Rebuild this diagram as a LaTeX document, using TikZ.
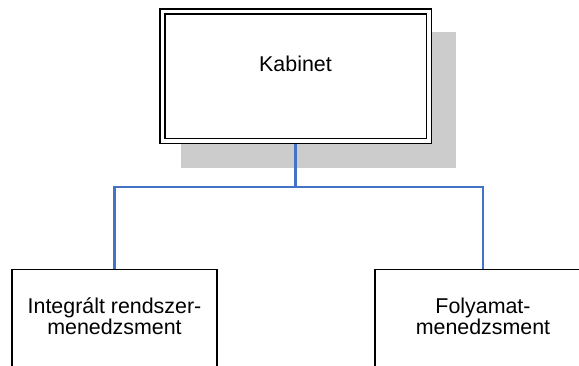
\documentclass[tikz,border=0pt]{standalone}
\usepackage{fontspec}
\setmainfont{Liberation Sans}
\usetikzlibrary{backgrounds}
\definecolor{linkblue}{RGB}{68,114,196}
\begin{document}
\begin{tikzpicture}[x=1pt, y=-1pt, font=\fontsize{21.4pt}{21pt}\selectfont,
    unit/.style={draw, line width=1.4pt, inner sep=0pt, align=center, anchor=north,
      minimum width=205pt, text height=65pt, text depth=52pt},
    link/.style={linkblue, line width=2.5pt}]
        % page is 579 x 365, y runs downwards; the lower boxes run past the page edge
        \path[use as bounding box, clip] (0,0) rectangle (579,365);
        \node[draw, double, line width=1.5pt, double distance=3.5pt, outer sep=3.25pt, inner sep=0pt,
          fill=white, minimum width=266.5pt, minimum height=129.5pt, text height=15pt, text depth=25pt]
          (kab) at (295.5,76) {Kabinet};
        % grey shadow, offset down and right
        \begin{scope}[on background layer]
          \fill[gray!40] ([shift={(22,24)}]kab.north west) rectangle ([shift={(24,24)}]kab.south east);
        \end{scope}
        \node[unit] (integ) at (114.5,269) {Integrált rendszer-\\menedzsment};
        \node[unit, minimum width=216pt] (folya) at (483,269) {Folyamat-\\menedzsment};
        \coordinate (hub) at ([yshift=-43pt]kab.south);
        \draw[link] (kab.south) -- (hub) -| (integ.north);
        \draw[link] (hub) -| (folya.north);
      \end{tikzpicture}
\end{document}
